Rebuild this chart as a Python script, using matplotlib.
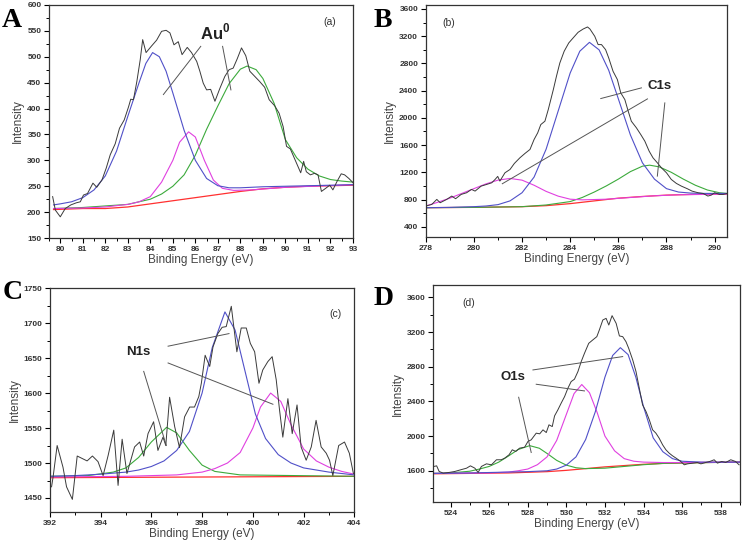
import numpy as np
import matplotlib
matplotlib.use('Agg')
import matplotlib.pyplot as plt

plt.rcParams['font.family'] = ['Liberation Sans', 'DejaVu Sans']
plt.rcParams['mathtext.fontset'] = 'custom'
plt.rcParams['mathtext.bf'] = 'Liberation Sans:bold'
plt.rcParams['mathtext.rm'] = 'Liberation Sans:bold'

# ---------------- panel A : Au 4f ----------------
a_raw_x = [79.66, 79.78, 80.0, 80.22, 80.47, 80.71, 80.89, 81.03, 81.21, 81.45, 81.62, 81.85, 82.04, 82.22,
           82.44, 82.63, 82.84, 83.03, 83.13, 83.25, 83.40, 83.55, 83.66, 83.81, 84.06, 84.28, 84.5, 84.70,
           84.87, 85.05, 85.24, 85.41, 85.64, 85.83, 86.06, 86.20, 86.35, 86.5, 86.68, 86.87, 87.09, 87.31,
           87.5, 87.68, 87.86, 88.05, 88.24, 88.42, 88.64, 88.86, 89.08, 89.28, 89.53, 89.72, 89.9, 90.05,
           90.22, 90.37, 90.56, 90.68, 90.81, 90.93, 91.11, 91.3, 91.45, 91.6, 91.79, 91.97, 92.11, 92.29,
           92.48, 92.63, 92.82, 93.0]
a_raw_y = [230, 204, 191, 207, 214, 218, 220, 233, 236, 256, 248, 262, 285, 311,
           332, 362, 378, 403, 418, 417, 452, 494, 533, 508, 521, 532, 549, 551,
           546, 523, 529, 504, 518, 508, 491, 472, 449, 436, 437, 414, 439, 462,
           475, 478, 496, 517, 502, 472, 462, 452, 441, 417, 405, 391, 365, 327,
           322, 307, 288, 276, 298, 278, 272, 275, 272, 240, 246, 252, 243, 259,
           274, 272, 265, 257]
a_blue_x = [79.7, 80.0, 80.5, 81.0, 81.5, 82.0, 82.5, 83.0, 83.5, 83.8, 84.1, 84.4, 84.7, 85.0, 85.5,
            86.0, 86.5, 87.0, 87.5, 88.0, 89.0, 90.0, 91.0, 92.0, 93.0]
a_blue_y = [214, 216, 220, 228, 243, 270, 318, 385, 450, 487, 508, 500, 472, 430, 358,
            300, 265, 251, 247, 247, 249, 250, 251, 252, 253]
a_mag_x = [79.7, 81.0, 82.0, 83.0, 83.5, 84.0, 84.5, 85.0, 85.3, 85.7, 86.0, 86.4, 86.8, 87.2, 87.7,
           88.5, 90.0, 93.0]
a_mag_y = [207, 208, 210, 215, 220, 230, 258, 300, 335, 355, 345, 300, 262, 246, 242,
           243, 248, 253]
a_green_x = [79.7, 81.0, 82.0, 83.0, 84.0, 84.5, 85.0, 85.5, 86.0, 86.5, 87.0, 87.5, 88.0, 88.3, 88.7,
             89.0, 89.5, 90.0, 90.5, 91.0, 91.5, 92.0, 92.5, 93.0]
a_green_y = [207, 209, 212, 215, 225, 235, 250, 272, 310, 360, 405, 448, 476, 482, 475,
             458, 410, 340, 305, 283, 270, 263, 260, 258]
a_red_x = [79.7, 81.0, 82.0, 83.0, 84.0, 85.0, 86.0, 87.0, 88.0, 89.0, 90.0, 91.0, 92.0, 93.0]
a_red_y = [205, 207, 207, 210, 216, 222, 228, 234, 240, 245, 248, 250, 251, 252]

# ---------------- panel B : C1s ----------------
b_raw_x = [278.0, 278.25, 278.46, 278.6, 278.87, 279.08, 279.24, 279.47, 279.7, 279.9, 280.05, 280.3,
           280.53, 280.74, 280.88, 280.99, 281.08, 281.29, 281.5, 281.68, 281.91, 282.12, 282.33, 282.5,
           282.65, 282.78, 282.95, 283.09, 283.3, 283.43, 283.57, 283.75, 283.94, 284.12, 284.33, 284.54,
           284.72, 284.82, 285.02, 285.16, 285.3, 285.47, 285.6, 285.78, 285.96, 286.1, 286.27, 286.41,
           286.54, 286.75, 286.93, 287.1, 287.28, 287.44, 287.62, 287.79, 288.0, 288.2, 288.41, 288.62,
           288.87, 289.06, 289.31, 289.52, 289.72, 289.86, 290.0, 290.2, 290.35, 290.53]
b_raw_y = [704, 728, 802, 753, 802, 851, 812, 875, 900, 949, 924, 997,
           1022, 1046, 1095, 1140, 1071, 1193, 1242, 1330, 1413, 1477, 1536, 1682,
           1780, 1902, 1951, 2123, 2416, 2612, 2807, 2979, 3101, 3174, 3258, 3306,
           3336, 3306, 3199, 3077, 3077, 3003, 2881, 2685, 2563, 2367, 2269, 2098,
           1951, 1854, 1756, 1658, 1511, 1413, 1340, 1266, 1193, 1095, 1037, 997,
           958, 924, 900, 890, 851, 865, 900, 875, 875, 890]
b_blue_x = [278.0, 279.0, 280.0, 280.5, 281.0, 281.5, 282.0, 282.5, 283.0, 283.5, 284.0, 284.4, 284.8,
            285.2, 285.6, 286.0, 286.5, 287.0, 287.5, 288.0, 288.5, 289.0, 289.5, 290.0, 290.5]
b_blue_y = [680, 685, 695, 705, 725, 780, 900, 1130, 1540, 2100, 2660, 2980, 3110,
            3000, 2700, 2280, 1750, 1340, 1100, 960, 910, 895, 890, 890, 890]
b_mag_x = [278.0, 278.5, 279.0, 279.5, 280.0, 280.5, 281.0, 281.5, 282.0, 282.5, 283.0, 283.5, 284.0,
           284.5, 285.5, 286.5, 287.5, 288.5, 290.5]
b_mag_y = [705, 760, 820, 890, 960, 1030, 1085, 1110, 1085, 1010, 920, 850, 805,
           795, 805, 830, 855, 870, 880]
b_green_x = [278.0, 280.0, 282.0, 283.0, 284.0, 284.5, 285.0, 285.5, 286.0, 286.5, 287.0, 287.3, 287.7,
             288.2, 288.7, 289.2, 289.7, 290.2, 290.5]
b_green_y = [680, 685, 695, 720, 770, 830, 910, 1000, 1100, 1210, 1290, 1305, 1280,
             1200, 1100, 1010, 940, 900, 890]
b_red_x = [278.0, 280.0, 282.0, 283.0, 284.0, 285.0, 286.0, 287.0, 288.0, 289.0, 290.0, 290.5]
b_red_y = [680, 685, 695, 710, 740, 780, 820, 845, 865, 875, 880, 882]

# ---------------- panel C : N1s ----------------
c_raw_x = [392.07, 392.13, 392.29, 392.52, 392.66, 392.89, 393.08, 393.47, 393.68, 393.9, 394.1, 394.3,
           394.52, 394.69, 394.85, 395.04, 395.34, 395.54, 395.7, 395.87, 396.09, 396.26, 396.46, 396.57,
           396.72, 396.92, 397.11, 397.31, 397.51, 397.7, 397.87, 397.97, 398.12, 398.3, 398.43, 398.62,
           398.79, 398.95, 399.15, 399.37, 399.54, 399.74, 399.9, 400.07, 400.24, 400.39, 400.59, 400.76,
           400.92, 401.05, 401.18, 401.38, 401.55, 401.74, 401.9, 402.1, 402.3, 402.49, 402.69, 402.89,
           403.02, 403.15, 403.38, 403.61, 403.8, 403.96]
c_raw_y = [1466, 1480, 1525, 1494, 1466, 1448, 1510, 1503, 1510, 1502, 1482, 1511,
           1547, 1468, 1534, 1485, 1523, 1530, 1510, 1542, 1559, 1518, 1537, 1525,
           1594, 1552, 1522, 1566, 1580, 1580, 1595, 1614, 1654, 1638, 1666, 1685,
           1694, 1695, 1724, 1659, 1693, 1693, 1671, 1659, 1614, 1633, 1645, 1652,
           1619, 1576, 1537, 1592, 1542, 1583, 1523, 1504, 1523, 1561, 1523, 1514,
           1504, 1482, 1525, 1530, 1514, 1485]
c_blue_x = [392.0, 393.0, 394.0, 395.0, 395.5, 396.0, 396.5, 397.0, 397.5, 398.0, 398.4, 398.9, 399.3,
            399.7, 400.1, 400.5, 401.0, 401.5, 402.0, 403.0, 404.0]
c_blue_y = [1481, 1482, 1484, 1487, 1490, 1495, 1503, 1518, 1545, 1600, 1665, 1716, 1690,
            1630, 1570, 1535, 1512, 1500, 1493, 1487, 1483]
c_mag_x = [392.0, 395.0, 397.0, 398.0, 398.5, 399.0, 399.5, 400.0, 400.3, 400.7, 401.1, 401.5, 402.0,
           402.5, 403.0, 403.5, 404.0]
c_mag_y = [1480, 1481, 1483, 1487, 1492, 1500, 1515, 1550, 1580, 1600, 1588, 1555, 1520,
           1503, 1494, 1488, 1484]
c_green_x = [392.0, 393.5, 394.5, 395.0, 395.5, 396.0, 396.6, 397.0, 397.5, 398.0, 398.5, 399.5, 404.0]
c_green_y = [1481, 1482, 1487, 1493, 1508, 1530, 1551, 1543, 1518, 1497, 1488, 1483, 1481]
c_red_x = [392.0, 398.0, 404.0]
c_red_y = [1479, 1480, 1481]

# ---------------- panel D : O1s ----------------
d_raw_x = [523.14, 523.28, 523.41, 523.62, 523.93, 524.22, 524.52, 524.83, 525.03, 525.26, 525.43, 525.6,
           525.86, 526.12, 526.38, 526.63, 526.81, 527.03, 527.2, 527.38, 527.58, 527.84, 528.01, 528.18,
           528.44, 528.62, 528.79, 528.96, 529.1, 529.27, 529.39, 529.56, 529.73, 529.91, 530.08, 530.25,
           530.42, 530.6, 530.77, 530.94, 531.16, 531.37, 531.58, 531.71, 531.89, 532.06, 532.2, 532.37,
           532.58, 532.75, 532.92, 533.09, 533.23, 533.44, 533.61, 533.78, 533.95, 534.13, 534.3, 534.47,
           534.64, 534.81, 534.99, 535.16, 535.33, 535.5, 535.71, 535.93, 536.11, 536.28, 536.54, 536.79,
           536.97, 537.23, 537.43, 537.66, 537.83, 538.05, 538.26, 538.52, 538.77, 538.95]
d_raw_y = [1650, 1657, 1592, 1573, 1581, 1592, 1611, 1630, 1657, 1630, 1581, 1650,
           1680, 1669, 1727, 1727, 1746, 1784, 1842, 1823, 1861, 1872, 1938, 1957,
           2034, 2026, 2072, 2041, 2130, 2110, 2233, 2302, 2379, 2456, 2552, 2629,
           2656, 2744, 2859, 2955, 3070, 3109, 3147, 3224, 3339, 3358, 3281, 3389,
           3301, 3155, 3147, 3089, 3013, 2878, 2744, 2552, 2360, 2283, 2187, 2072,
           2034, 1976, 1899, 1842, 1803, 1773, 1742, 1707, 1669, 1680, 1688, 1696,
           1680, 1696, 1707, 1727, 1688, 1707, 1696, 1727, 1707, 1669]
d_blue_x = [523.1, 525.0, 527.0, 528.0, 529.0, 529.5, 530.0, 530.5, 531.0, 531.5, 532.0, 532.4, 532.8,
            533.2, 533.6, 534.0, 534.5, 535.0, 535.5, 536.0, 537.0, 539.0]
d_blue_y = [1570, 1575, 1585, 1590, 1600, 1620, 1665, 1760, 1960, 2280, 2680, 2930, 3020,
            2940, 2680, 2340, 1980, 1820, 1740, 1710, 1700, 1700]
d_mag_x = [523.1, 526.0, 527.0, 527.5, 528.0, 528.5, 529.0, 529.5, 530.0, 530.4, 530.8, 531.2, 531.6,
           532.0, 532.5, 533.0, 533.5, 534.0, 535.0, 536.0, 539.0]
d_mag_y = [1570, 1575, 1585, 1600, 1620, 1670, 1760, 1950, 2250, 2490, 2595, 2500, 2270,
           2000, 1830, 1740, 1710, 1700, 1695, 1695, 1700]
d_green_x = [523.1, 524.0, 525.0, 525.5, 526.0, 526.5, 527.0, 527.5, 528.1, 528.6, 529.0, 529.5, 530.0,
             530.5, 531.0, 532.0, 533.0, 534.0, 535.0, 536.0, 539.0]
d_green_y = [1570, 1575, 1595, 1620, 1650, 1700, 1770, 1845, 1890, 1860, 1800, 1720, 1665,
             1635, 1625, 1630, 1650, 1670, 1685, 1690, 1700]
d_red_x = [523.1, 525.0, 527.0, 529.0, 530.0, 531.0, 532.0, 533.0, 534.0, 535.0, 536.0, 537.0, 539.0]
d_red_y = [1565, 1570, 1575, 1590, 1605, 1625, 1645, 1660, 1675, 1685, 1690, 1695, 1700]

c_raw = '#3a3a3a'
c_blue = '#5050c8'
c_mag = '#e040e0'
c_green = '#3caa3c'
c_red = '#ff3030'
c_ann = '#555555'

fig = plt.figure(figsize=(7.43, 5.46), dpi=100)


def setup(ax, xlim, ylim, xmaj, xmin, ymaj, ymin):
    ax.set_xlim(*xlim)
    ax.set_ylim(*ylim)
    ax.xaxis.set_major_locator(matplotlib.ticker.MultipleLocator(xmaj))
    ax.xaxis.set_minor_locator(matplotlib.ticker.MultipleLocator(xmin))
    ax.yaxis.set_major_locator(matplotlib.ticker.MultipleLocator(ymaj))
    ax.yaxis.set_minor_locator(matplotlib.ticker.MultipleLocator(ymin))
    ax.tick_params(which='major', direction='out', length=3.5, width=0.8, labelsize=6, pad=2)
    ax.tick_params(which='minor', direction='out', length=2, width=0.7)
    for lab in ax.get_xticklabels() + ax.get_yticklabels():
        lab.set_fontweight('bold')
        lab.set_color('#333333')
    for s in ax.spines.values():
        s.set_linewidth(0.9)
        s.set_color('#333333')
    ax.set_xlabel('Binding Energy (eV)', fontsize=8.5, color='#444444', labelpad=1)
    ax.set_ylabel('Intensity', fontsize=8.5, color='#444444', labelpad=2)


def curves(ax, raw, blue, mag, green, red):
    ax.plot(red[0], red[1], color=c_red, lw=0.9)
    ax.plot(green[0], green[1], color=c_green, lw=0.8)
    ax.plot(mag[0], mag[1], color=c_mag, lw=0.8)
    ax.plot(blue[0], blue[1], color=c_blue, lw=0.8)
    ax.plot(raw[0], raw[1], color=c_raw, lw=0.7)


# A
ax = fig.add_axes([0.066, 0.564, 0.409, 0.427])
curves(ax, (a_raw_x, a_raw_y), (a_blue_x, a_blue_y), (a_mag_x, a_mag_y),
       (a_green_x, a_green_y), (a_red_x, a_red_y))
setup(ax, (79.5, 93), (150, 600), 1, 0.5, 50, 25)
ax.plot([84.58, 86.24], [427, 520], color=c_ann, lw=0.7)
ax.plot([87.21, 87.58], [520, 436], color=c_ann, lw=0.7)
ax.text(86.2, 534, r'Au$^{\mathbf{0}}$', fontsize=12, fontweight='bold', color='#222222')
ax.text(91.7, 561, '(a)', fontsize=7.5, color='#333333')

# B
ax = fig.add_axes([0.573, 0.566, 0.406, 0.425])
curves(ax, (b_raw_x, b_raw_y), (b_blue_x, b_blue_y), (b_mag_x, b_mag_y),
       (b_green_x, b_green_y), (b_red_x, b_red_y))
setup(ax, (278, 290.53), (250, 3660), 2, 1, 400, 200)
ax.plot([285.27, 286.96], [2284, 2441], color=c_ann, lw=0.7)
ax.plot([281.18, 287.21], [1032, 2279], color=c_ann, lw=0.7)
ax.plot([287.93, 287.62], [2220, 1144], color=c_ann, lw=0.7)
ax.text(287.2, 2475, 'C1s', fontsize=9.5, fontweight='bold', color='#222222', va='center')
ax.text(278.7, 3395, '(b)', fontsize=7.5, color='#333333', va='center')

# C
ax = fig.add_axes([0.067, 0.0623, 0.410, 0.410])
curves(ax, (c_raw_x, c_raw_y), (c_blue_x, c_blue_y), (c_mag_x, c_mag_y),
       (c_green_x, c_green_y), (c_red_x, c_red_y))
setup(ax, (392, 404), (1430, 1750), 2, 1, 50, 25)
ax.plot([396.66, 399.06], [1667, 1685], color=c_ann, lw=0.7)
ax.plot([396.66, 400.79], [1643, 1584], color=c_ann, lw=0.7)
ax.plot([395.7, 396.59], [1631, 1525], color=c_ann, lw=0.7)
ax.text(395.0, 1658, 'N1s', fontsize=9.5, fontweight='bold', color='#222222', va='center')
ax.text(403.0, 1713, '(c)', fontsize=7.5, color='#333333', va='center')

# D
ax = fig.add_axes([0.583, 0.0806, 0.413, 0.397])
curves(ax, (d_raw_x, d_raw_y), (d_blue_x, d_blue_y), (d_mag_x, d_mag_y),
       (d_green_x, d_green_y), (d_red_x, d_red_y))
setup(ax, (523.1, 539.0), (1240, 3740), 2, 1, 400, 200)
ax.plot([528.27, 532.92], [2763, 2917], color=c_ann, lw=0.7)
ax.plot([528.44, 530.94], [2598, 2521], color=c_ann, lw=0.7)
ax.plot([527.53, 528.18], [2448, 1811], color=c_ann, lw=0.7)
ax.text(526.6, 2678, 'O1s', fontsize=9.5, fontweight='bold', color='#222222', va='center')
ax.text(524.6, 3531, '(d)', fontsize=7.5, color='#333333', va='center')

# panel letters
for lx, ly, s in [(0.003, 0.985, 'A'), (0.503, 0.985, 'B'), (0.003, 0.488, 'C'), (0.503, 0.477, 'D')]:
    fig.text(lx, ly, s, fontsize=20, fontweight='bold', family='Liberation Serif', va='top', ha='left')

fig.savefig('out.png', dpi=100)
